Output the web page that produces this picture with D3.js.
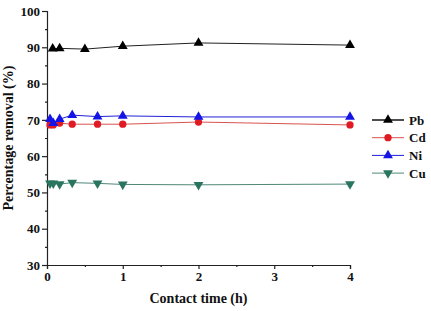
<!DOCTYPE html>
<html>
<head>
<meta charset="utf-8">
<script src="https://cdn.jsdelivr.net/npm/d3@7"></script>
<style>
  body { margin: 0; background: #fff; }
  svg text { font-family: "Liberation Serif", "DejaVu Serif", serif; font-weight: bold; }
</style>
</head>
<body>
<div id="chart"></div>
<script>
// contact time (h)
var timesA = [0.04, 0.083, 0.167, 0.333, 0.667, 1, 2, 4];
var timesPb = [0.075, 0.167, 0.5, 1, 2, 4];

// percentage removal (%)
var pbValues = [89.6, 89.7, 89.5, 90.3, 91.2, 90.6];
var cdValues = [68.6, 68.6, 69.1, 68.8, 68.8, 68.8, 69.4, 68.6];
var niValues = [70.2, 69.1, 70.2, 71.3, 70.9, 71.1, 70.8, 70.8];
var cuValues = [52.5, 52.5, 52.3, 52.7, 52.5, 52.2, 52.1, 52.3];

var seriesNames = ["Pb", "Cd", "Ni", "Cu"];
var xTicks = [0, 1, 2, 3, 4];
var yTicks = [30, 40, 50, 60, 70, 80, 90, 100];

var width = 431, height = 311,
    margin = {left: 47, right: 81, top: 11, bottom: 46};

var series = [
    {name: "Pb", t: timesPb, v: pbValues, color: "#000", line: "#222", shape: d3.symbolTriangle},
    {name: "Cd", t: timesA, v: cdValues, color: "#e01b24", line: "#d9534f", shape: d3.symbolCircle},
    {name: "Ni", t: timesA, v: niValues, color: "#1414e6", line: "#2020d8", shape: d3.symbolTriangle},
    {name: "Cu", t: timesA, v: cuValues, color: "#2a7560", line: "#4f8878", shape: "down"}
];

var svg = d3.select("#chart").append("svg")
    .attr("width", width)
    .attr("height", height);

var x = d3.scaleLinear().domain([0, 4]).range([margin.left, width - margin.right]);
var y = d3.scaleLinear().domain([30, 100]).range([height - margin.bottom, margin.top]);

// axes with minor ticks
var xAxis = svg.append("g").attr("transform", "translate(0," + y(30) + ")");
xAxis.call(d3.axisBottom(x).tickValues(xTicks).tickFormat(d3.format("d")).tickSize(4).tickPadding(3));
xAxis.append("g").call(d3.axisBottom(x).tickValues([0.5, 1.5, 2.5, 3.5]).tickFormat("").tickSize(2))
    .select(".domain").remove();

var yAxis = svg.append("g").attr("transform", "translate(" + x(0) + ",0)");
yAxis.call(d3.axisLeft(y).tickValues(yTicks).tickFormat(d3.format("d")).tickSize(5).tickPadding(2));
yAxis.append("g").call(d3.axisLeft(y).tickValues([35, 45, 55, 65, 75, 85, 95]).tickFormat("").tickSize(2))
    .select(".domain").remove();

svg.selectAll(".domain").attr("stroke", "#222").attr("stroke-width", 1.2);
svg.selectAll(".tick line").attr("stroke", "#222").attr("stroke-width", 1.2);
svg.selectAll(".tick text").attr("font-size", 13).attr("fill", "#111")
    .style("font-family", "'Liberation Serif', serif").style("font-weight", "bold");

// axis titles
svg.append("text")
    .attr("x", x(2)).attr("y", 303)
    .attr("text-anchor", "middle").attr("font-size", 14).attr("fill", "#111")
    .text("Contact time (h)");

svg.append("text")
    .attr("transform", "translate(13," + y(65) + ") rotate(-90)")
    .attr("text-anchor", "middle").attr("font-size", 14).attr("fill", "#111")
    .text("Percentage removal (%)");

function marker(s) {
    var type = s.shape === "down" ? d3.symbolTriangle : s.shape;
    return d3.symbol().type(type).size(42)();
}

var line = d3.line().x(function (d) { return x(d[0]); }).y(function (d) { return y(d[1]); });

series.forEach(function (s) {
    var pts = s.t.map(function (t, i) { return [t, s.v[i]]; });
    svg.append("path")
        .datum(pts)
        .attr("fill", "none")
        .attr("stroke", s.line)
        .attr("stroke-width", 1)
        .attr("d", line);
    svg.append("g").selectAll("path")
        .data(pts)
        .enter()
        .append("path")
        .attr("d", marker(s))
        .attr("fill", s.color)
        .attr("transform", function (d) {
            return "translate(" + x(d[0]) + "," + y(d[1]) + ")" + (s.shape === "down" ? " rotate(180)" : "");
        });
});

// legend
var legend = svg.append("g").selectAll("g")
    .data(series)
    .enter()
    .append("g")
    .attr("transform", function (d, i) { return "translate(372," + (120 + i * 17.7) + ")"; });

legend.append("line")
    .attr("x1", 0).attr("x2", 32)
    .attr("stroke", function (d) { return d.line; })
    .attr("stroke-width", function (d) { return d.name === "Pb" ? 1.6 : 1; });

legend.append("path")
    .attr("d", function (d) { return marker(d); })
    .attr("fill", function (d) { return d.color; })
    .attr("transform", function (d) { return "translate(16,0)" + (d.shape === "down" ? " rotate(180)" : ""); });

legend.append("text")
    .attr("x", 37).attr("y", 4.5)
    .attr("font-size", 13).attr("fill", "#111")
    .text(function (d) { return d.name; });
</script>
</body>
</html>
